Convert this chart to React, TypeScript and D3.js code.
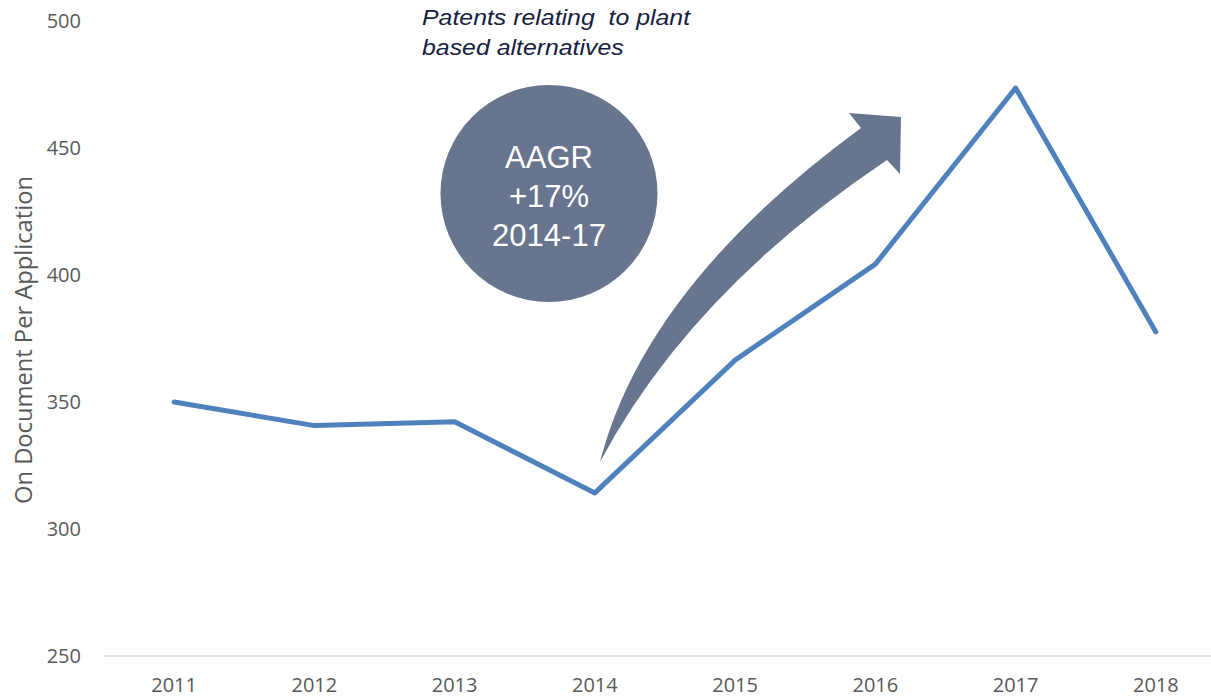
import React from "react";
import * as d3 from "d3";

const years = ["2011", "2012", "2013", "2014", "2015", "2016", "2017", "2018"];
const values = [350.0, 340.7, 342.2, 314.2, 366.5, 404.3, 473.6, 377.6];
const yTicks = [250, 300, 350, 400, 450, 500];
const yTitle = "On Document Per Application";
const noteLines = ["Patents relating  to plant", "based alternatives"];
const badgeLines = ["AAGR", "+17%", "2014-17"];

const W = 1211;
const H = 698;

export default function App() {
  const x = d3.scaleBand<string>().domain(years).range([104, 1226]);
  const y = d3.scaleLinear().domain([250, 500]).range([656, 21]);
  const cx = (d: string) => (x(d) as number) + x.bandwidth() / 2;

  const line = d3
    .line<number>()
    .x((_, i) => cx(years[i]))
    .y((d) => y(d));

  // curved arrow
  const arrow = d3.path();
  arrow.moveTo(598, 470);
  arrow.quadraticCurveTo(640, 290, 861, 128);
  arrow.lineTo(849, 113);
  arrow.lineTo(901, 117);
  arrow.lineTo(900, 174);
  arrow.lineTo(887, 160);
  arrow.quadraticCurveTo(690, 292, 600, 462);
  arrow.closePath();

  const labelFont = "'Open Sans', sans-serif";
  const arial = "'Liberation Sans', Arial, sans-serif";

  return (
    <svg
      width={W}
      height={H}
      style={{ position: "absolute", left: 0, top: 0, background: "#fff" }}
    >
      {/* axis line */}
      <line x1={103} x2={W} y1={y(250)} y2={y(250)} stroke="#d9d9d9" strokeWidth={1.5} />

      {/* y tick labels */}
      {yTicks.map((t) => (
        <text
          key={t}
          x={81}
          y={y(t)}
          dy="0.36em"
          textAnchor="end"
          fontFamily={labelFont}
          fontSize={20}
          fill="#595959"
        >
          {t}
        </text>
      ))}

      {/* x labels */}
      {years.map((yr) => (
        <text
          key={yr}
          x={cx(yr)}
          y={692}
          textAnchor="middle"
          fontFamily={labelFont}
          fontSize={20}
          fill="#595959"
        >
          {yr}
        </text>
      ))}

      {/* y title */}
      <text
        transform={`translate(32,340) rotate(-90)`}
        textAnchor="middle"
        fontFamily={labelFont}
        fontSize={23}
        textLength={328}
        lengthAdjust="spacingAndGlyphs"
        fill="#595959"
      >
        {yTitle}
      </text>

      {/* arrow */}
      <path d={arrow.toString()} fill="#67758f" />

      {/* line */}
      <path
        d={line(values) || ""}
        fill="none"
        stroke="#4f81bd"
        strokeWidth={5}
        strokeLinejoin="round"
        strokeLinecap="round"
      />

      {/* badge */}
      <circle cx={549} cy={193.5} r={108.5} fill="#67758f" />
      {badgeLines.map((t, i) => (
        <text
          key={t}
          x={549}
          y={168 + i * 39}
          textAnchor="middle"
          fontFamily={arial}
          fontSize={31}
          fill="#ffffff"
        >
          {t}
        </text>
      ))}

      {/* note */}
      {noteLines.map((t, i) => (
        <text
          key={t}
          transform={`translate(422,${25 + i * 30}) scale(1.13,1)`}
          fontFamily={arial}
          fontStyle="italic"
          fontSize={22}
          fill="#17213f"
          style={{ whiteSpace: "pre" }}
        >
          {t}
        </text>
      ))}
    </svg>
  );
}
